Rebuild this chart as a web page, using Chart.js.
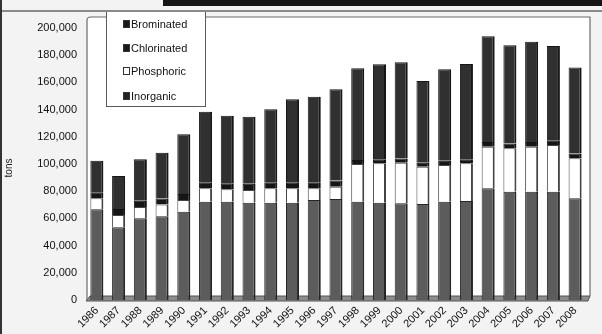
<!DOCTYPE html>
<html>
<head>
<meta charset="utf-8">
<title>Flame retardant demand</title>
<script src="https://cdn.jsdelivr.net/npm/chart.js@4.4.1/dist/chart.umd.min.js"></script>
<style>
  html, body { margin: 0; padding: 0; background: #f3f3f3; }
  #wrap { position: relative; width: 602px; height: 334px; overflow: hidden; background: #f3f3f3; }
  #topband { position: absolute; left: 163px; top: 0; width: 439px; height: 6px; background: #151515; }
  #topline { position: absolute; left: 0; top: 10px; width: 602px; height: 2px; background: #8a8a8a; }
  #leftedge { position: absolute; left: 0; top: 0; width: 2px; height: 334px; background: #333; }
  canvas { position: absolute; left: 0; top: 0; }
</style>
</head>
<body>
<div id="wrap">
  <canvas id="c" width="602" height="334"></canvas>
  <div id="topband"></div>
  <div id="topline"></div>
  <div id="leftedge"></div>
</div>
<script>
// Years on the category axis
const years = ['1986','1987','1988','1989','1990','1991','1992','1993','1994','1995','1996','1997',
               '1998','1999','2000','2001','2002','2003','2004','2005','2006','2007','2008'];

// Demand by type of flame retardant, tons
const inorganic   = [66700, 53500, 60100, 61500, 64900, 72300, 72300, 71500, 71500, 71500, 73500, 74300,
                     72300, 71500, 71100, 70600, 72300, 72800, 82100, 79600, 79600, 79600, 74800];
const phosphoric  = [8100, 9000, 8300, 8700, 8600, 9800, 9100, 9400, 10600, 10600, 8600, 9000,
                     27700, 29000, 29900, 27400, 27000, 27700, 30600, 31900, 33100, 34400, 29400];
const chlorinated = [4500, 4500, 4500, 4500, 4500, 4500, 4500, 4500, 4500, 4500, 4500, 4500,
                     3000, 3000, 3000, 3000, 3000, 3000, 3500, 3500, 3500, 3500, 3500];
const brominated  = [23100, 24200, 30600, 33600, 43800, 51900, 49600, 49400, 53600, 61000, 62900, 67100,
                     67400, 69800, 70800, 60000, 67300, 70000, 77800, 72400, 73700, 69200, 63300];

// Value axis ticks
const yTicks = [0, 20000, 40000, 60000, 80000, 100000, 120000, 140000, 160000, 180000, 200000];

const FONT = 'Liberation Sans, Arial, sans-serif';

// Wall, floor and plot background behind the bars
const framePlugin = {
  id: 'frame',
  beforeDatasetsDraw(chart) {
    const { ctx, chartArea: a } = chart;
    ctx.save();
    ctx.fillStyle = '#ffffff';
    ctx.fillRect(a.left + 1, 17, 590 - a.left - 1, a.bottom - 17);
    // floor
    ctx.beginPath();
    ctx.moveTo(a.left, a.bottom + 1);
    ctx.lineTo(a.right + 2, a.bottom + 1);
    ctx.lineTo(590, a.bottom - 4);
    ctx.lineTo(a.left + 4, a.bottom - 4);
    ctx.closePath();
    ctx.fillStyle = '#8c8c8c';
    ctx.fill();
    ctx.strokeStyle = '#555';
    ctx.lineWidth = 1;
    ctx.stroke();
    // walls
    ctx.beginPath();
    ctx.moveTo(a.left + 1, a.bottom);
    ctx.lineTo(a.left + 1, 20);
    ctx.quadraticCurveTo(a.left + 1, 17, a.left + 5, 17);
    ctx.lineTo(590, 17);
    ctx.lineTo(590, a.bottom - 4);
    ctx.strokeStyle = '#6a6a6a';
    ctx.lineWidth = 1.2;
    ctx.stroke();
    ctx.restore();
  }
};

// Boxed legend inside the plot, listed top of stack first
const boxLegendPlugin = {
  id: 'boxLegend',
  afterDraw(chart) {
    const { ctx } = chart;
    const x = 106, y = 10, w = 99, h = 96;
    ctx.save();
    ctx.fillStyle = '#ffffff';
    ctx.fillRect(x, y, w, h);
    ctx.strokeStyle = '#5a5a5a';
    ctx.lineWidth = 1;
    ctx.strokeRect(x + 0.5, y + 0.5, w, h);
    const sets = chart.data.datasets.slice().reverse();
    const rows = [24, 48, 71, 96];
    ctx.font = '11px ' + FONT;
    ctx.textBaseline = 'middle';
    sets.forEach((ds, i) => {
      const ry = rows[i];
      ctx.fillStyle = ds.legendColor;
      ctx.fillRect(123, ry - 4, 7, 8);
      ctx.strokeStyle = '#333';
      ctx.strokeRect(123.5, ry - 3.5, 6, 7);
      ctx.fillStyle = '#111';
      ctx.fillText(ds.label, 131, ry + 1);
    });
    ctx.restore();
  }
};

// Rotated axis title
const titlePlugin = {
  id: 'yTitle',
  afterDraw(chart) {
    const { ctx } = chart;
    ctx.save();
    ctx.translate(9, 168);
    ctx.rotate(-Math.PI / 2);
    ctx.font = '10px ' + FONT;
    ctx.fillStyle = '#222';
    ctx.textAlign = 'center';
    ctx.textBaseline = 'middle';
    ctx.fillText('tons', 0, 0);
    ctx.restore();
  }
};

const barStyle = { left: 1, right: 2, top: 1, bottom: 0 };

new Chart(document.getElementById('c'), {
  type: 'bar',
  data: {
    labels: years,
    datasets: [
      { label: 'Inorganic',   data: inorganic,   backgroundColor: '#5c5c5c', legendColor: '#222222', borderColor: '#262626', borderWidth: barStyle },
      { label: 'Phosphoric',  data: phosphoric,  backgroundColor: '#ffffff', legendColor: '#ffffff', borderColor: '#444444', borderWidth: barStyle },
      { label: 'Chlorinated', data: chlorinated, backgroundColor: '#151515', legendColor: '#1a1a1a', borderColor: '#111111', borderWidth: barStyle },
      { label: 'Brominated',  data: brominated,  backgroundColor: '#303030', legendColor: '#1a1a1a', borderColor: '#161616', borderWidth: barStyle }
    ]
  },
  options: {
    responsive: false,
    animation: false,
    devicePixelRatio: 1,
    layout: { padding: { top: 28, right: 16, bottom: 0, left: 0 } },
    datasets: { bar: { barPercentage: 0.6, categoryPercentage: 1.0, borderSkipped: false } },
    plugins: { legend: { display: false }, tooltip: { enabled: false } },
    scales: {
      x: {
        stacked: true,
        offset: true,
        grid: { display: false, drawTicks: false },
        border: { display: false },
        afterFit(s) { s.height = 34; },
        ticks: {
          minRotation: 45, maxRotation: 45, padding: 4, autoSkip: false,
          color: '#111', font: { family: FONT, size: 11 }
        }
      },
      y: {
        stacked: true,
        min: 0, max: 200000,
        grid: { display: false, drawTicks: false },
        border: { display: false },
        afterFit(s) { s.width = 86; },
        afterBuildTicks(s) { s.ticks = yTicks.map(v => ({ value: v })); },
        ticks: {
          padding: 9,
          color: '#111',
          font: { family: FONT, size: 11 },
          callback: v => v.toLocaleString('en-US')
        }
      }
    }
  },
  plugins: [framePlugin, boxLegendPlugin, titlePlugin]
});
</script>
</body>
</html>
